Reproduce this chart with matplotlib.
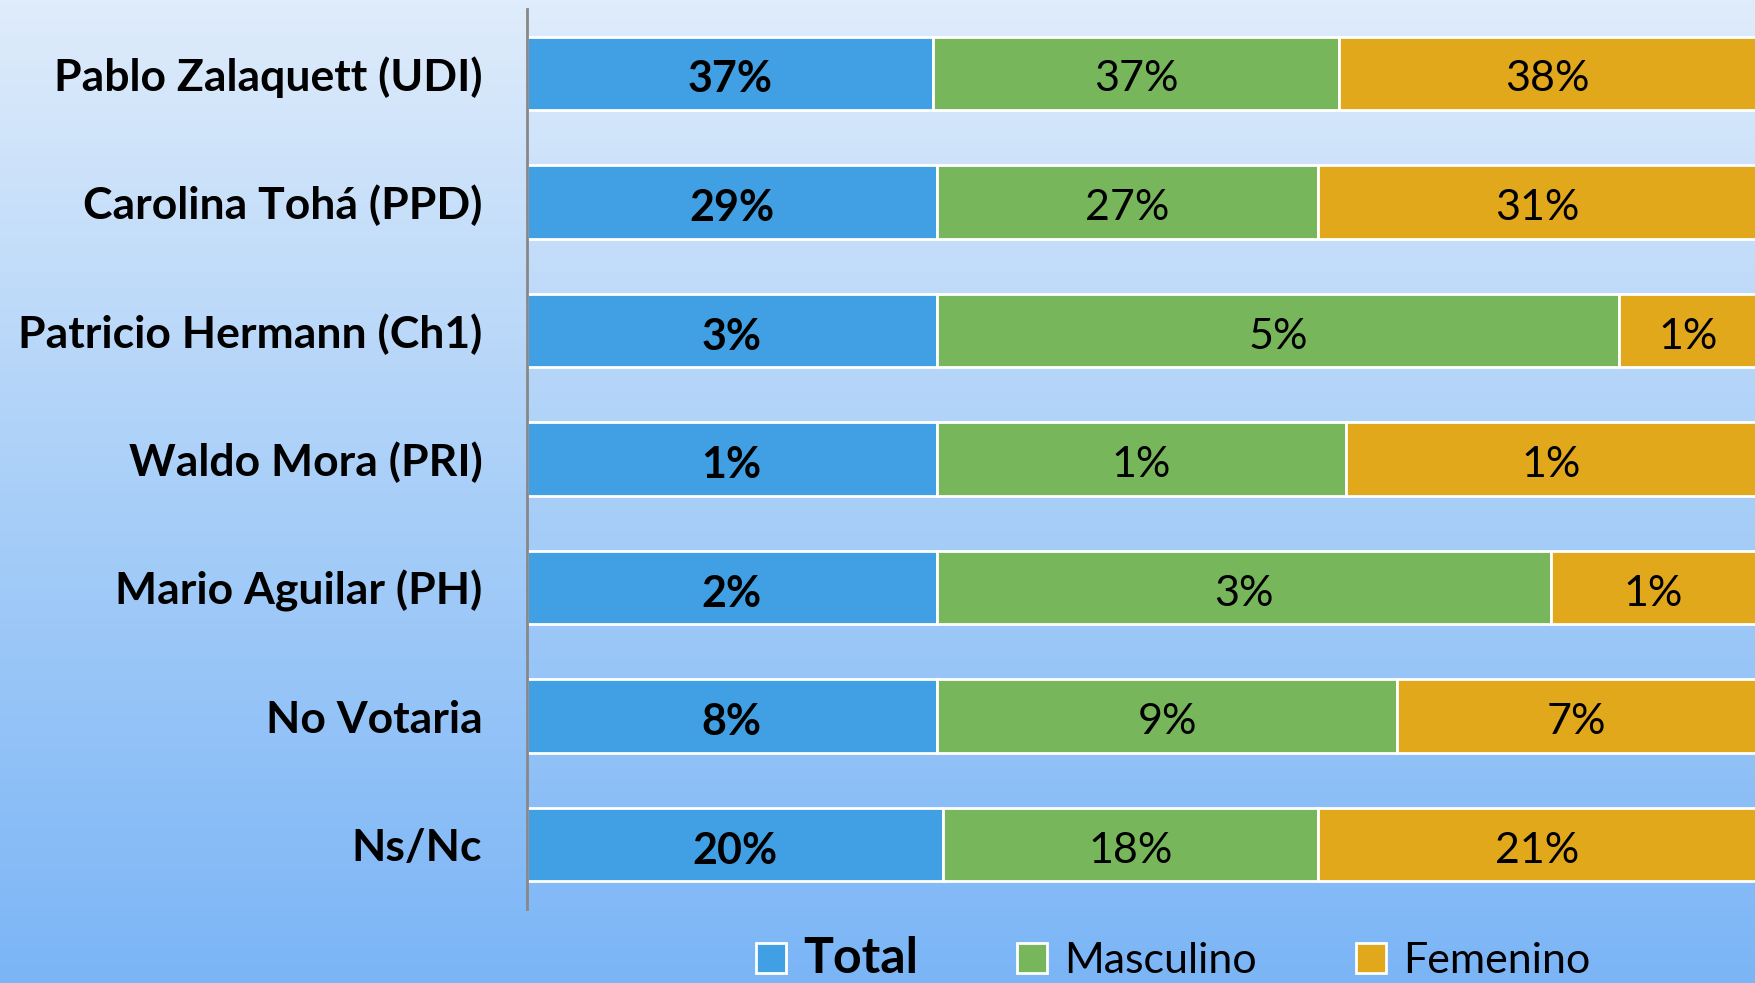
import numpy as np
from matplotlib import pyplot as plt
from matplotlib.colors import LinearSegmentedColormap

plt.rcParams['font.family'] = ['Lato', 'DejaVu Sans']

categorias = ['Pablo Zalaquett (UDI)', 'Carolina Tohá (PPD)', 'Patricio Hermann (Ch1)',
              'Waldo Mora (PRI)', 'Mario Aguilar (PH)', 'No Votaria', 'Ns/Nc']
total = [37, 29, 3, 1, 2, 8, 20]
masculino = [37, 27, 5, 1, 3, 9, 18]
femenino = [38, 31, 1, 1, 1, 7, 21]

series = ['Total', 'Masculino', 'Femenino']
colores = ['#419fe3', '#77b65a', '#e2a81b']

fig = plt.figure(figsize=(17.56, 9.83), dpi=100)

# fondo degradado
bg = fig.add_axes([0, 0, 1, 1], zorder=-10)
cmap = LinearSegmentedColormap.from_list('fondo', ['#7bb5f6', '#a9cff8', '#dfecfb'])
grad = np.linspace(0, 1, 256).reshape(-1, 1)
bg.imshow(grad, aspect='auto', cmap=cmap, origin='lower', extent=[0, 1, 0, 1])
bg.axis('off')

ax = fig.add_axes([0.300, 0.0753, 0.700, 0.9155])
ax.patch.set_alpha(0)

datos = np.array([total, masculino, femenino], dtype=float)
sumas = datos.sum(axis=0)
y = np.arange(len(categorias))
izq = np.zeros(len(categorias))
for i, (nombre, col) in enumerate(zip(series, colores)):
    ancho = datos[i] / sumas
    ax.barh(y, ancho, left=izq, height=0.57, color=col, edgecolor='white',
            linewidth=2, label=nombre)
    for j in range(len(categorias)):
        ax.text(izq[j] + ancho[j] / 2, y[j] + 0.02, f'{int(datos[i][j])}%',
                ha='center', va='center_baseline', fontsize=31,
                fontweight='bold' if i == 0 else 'normal', color='black')
    izq += ancho

ax.set_xlim(0, 1)
ax.set_ylim(len(categorias) - 0.5, -0.5)
ax.set_yticks(y)
ax.set_yticklabels(categorias, fontsize=32, fontweight='bold')
ax.tick_params(axis='y', length=0, pad=32)
ax.set_xticks([])
for s in ['top', 'right', 'bottom']:
    ax.spines[s].set_visible(False)
ax.spines['left'].set_color('#888888')
ax.spines['left'].set_linewidth(2)

leg = fig.legend(loc='center', bbox_to_anchor=(0.668, 0.025), ncol=3, frameon=False,
                 fontsize=31, handlelength=0.7, handleheight=0.7, columnspacing=2.3,
                 handletextpad=0.4)
leg.get_texts()[0].set_fontweight('bold')
leg.get_texts()[0].set_fontsize(36)

plt.savefig('out.png', dpi=100)
plt.close()
